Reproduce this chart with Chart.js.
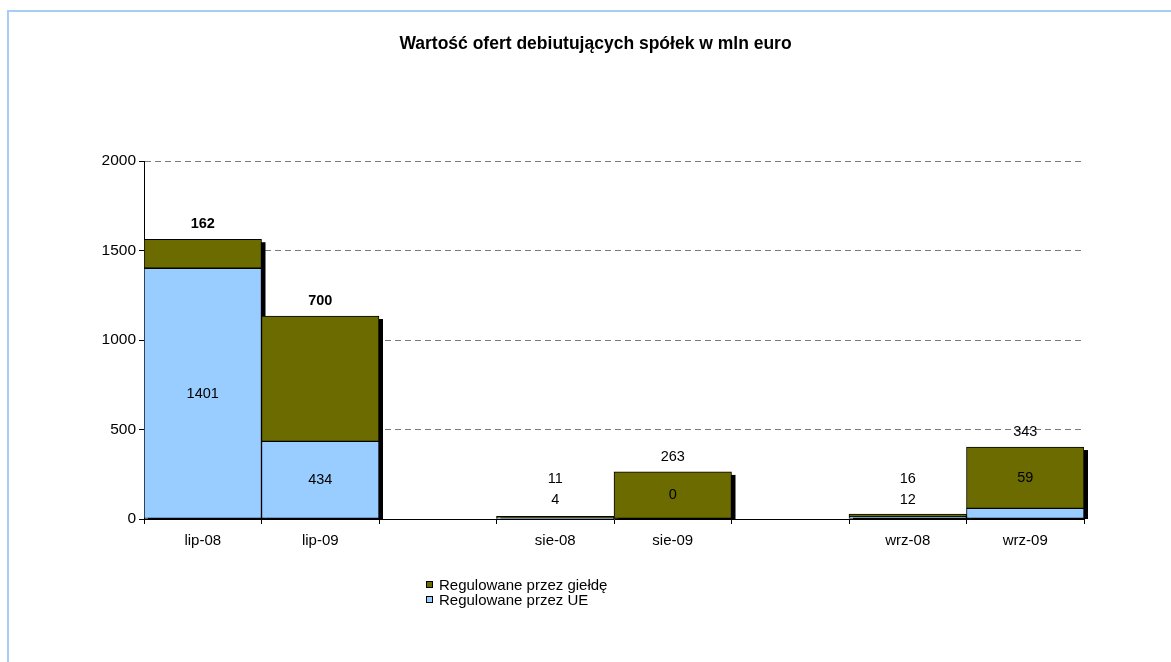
<!DOCTYPE html>
<html lang="pl">
<head>
<meta charset="utf-8">
<title>Wartość ofert debiutujących spółek w mln euro</title>
<script src="https://cdn.jsdelivr.net/npm/chart.js@4.4.1/dist/chart.umd.min.js"></script>
<style>
    html, body { margin: 0; padding: 0; background: #fff; }
    #wrap { position: relative; width: 1171px; height: 662px; overflow: hidden; }
    #frame {
        position: absolute; left: 7px; top: 10px; width: 1250px; height: 750px;
        border-top: 2px solid #a6cdf5; border-left: 2px solid #a6cdf5; box-sizing: border-box;
    }
    #chart { position: absolute; left: 0; top: 0; }
    #legend {
        position: absolute; left: 426px; top: 577px;
        font: 15px "Liberation Sans", Arial, sans-serif; color: #000; line-height: 15px;
    }
    .legend-item { display: flex; align-items: center; white-space: nowrap; }
    .legend-box { width: 5px; height: 5px; border: 1px solid #000; margin-right: 6px; }
</style>
</head>
<body>
<div id="wrap">
    <div id="frame"></div>
    <canvas id="chart" width="1171" height="662"></canvas>
    <div id="legend"></div>
</div>
<script>
// Data (empty categories are the gaps between months)
const categories = ["lip-08", "lip-09", "", "sie-08", "sie-09", "", "wrz-08", "wrz-09"];
const ueValues = [1401, 434, null, 4, 0, null, 12, 59];
const gieldaValues = [162, 700, null, 11, 263, null, 16, 343];
const yTicks = [0, 500, 1000, 1500, 2000];
const chartTitle = "Wartość ofert debiutujących spółek w mln euro";
const boldLabels = ["lip-08", "lip-09"];

const FONT = '"Liberation Sans", Arial, sans-serif';

// Title is drawn by hand: it sits a bit right of the canvas centre
const titlePlugin = {
    id: "chartTitle",
    afterDraw(chart) {
        const ctx = chart.ctx;
        ctx.save();
        ctx.fillStyle = "#000";
        ctx.font = "bold 17.5px " + FONT;
        ctx.textAlign = "center";
        ctx.textBaseline = "middle";
        ctx.fillText(chartTitle, chart.width / 2 + 10, 44);
        ctx.restore();
    }
};

// Black drop shadow behind each stacked bar (Excel style)
const shadowPlugin = {
    id: "barShadow",
    beforeDatasetsDraw(chart) {
        const ctx = chart.ctx;
        const area = chart.chartArea;
        const y = chart.scales.y;
        const meta = chart.getDatasetMeta(0);
        const zeroY = y.getPixelForValue(0);
        ctx.save();
        ctx.beginPath();
        ctx.rect(area.left, area.top, area.right - area.left + 10, area.bottom - area.top);
        ctx.clip();
        ctx.fillStyle = "#000";
        meta.data.forEach((bar, i) => {
            const total = (ueValues[i] || 0) + (gieldaValues[i] || 0);
            if (!categories[i] || !total) return;
            const { x, width } = bar.getProps(["x", "width"], true);
            const top = y.getPixelForValue(total);
            ctx.fillRect(x - width / 2 + 4, Math.min(top + 3, zeroY - 3), width, zeroY - top);
        });
        ctx.restore();
    }
};

// Value labels: top label = giełda, lower label = UE
const labelPlugin = {
    id: "valueLabels",
    afterDatasetsDraw(chart) {
        const ctx = chart.ctx;
        const y = chart.scales.y;
        const meta = chart.getDatasetMeta(0);
        const zeroY = y.getPixelForValue(0);
        ctx.save();
        ctx.fillStyle = "#000";
        ctx.textAlign = "center";
        ctx.textBaseline = "middle";
        categories.forEach((cat, i) => {
            if (!cat) return;
            const ue = ueValues[i], gp = gieldaValues[i];
            const x = meta.data[i].x;
            const topPx = y.getPixelForValue(ue + gp);
            const uePx = y.getPixelForValue(ue);
            let ueY, gpY;
            if (zeroY - topPx < 20) {
                // tiny bar: both labels stacked above it
                ueY = zeroY - 19;
                gpY = zeroY - 40;
            } else {
                gpY = topPx - 15;
                ueY = (zeroY - uePx > 30) ? (zeroY + uePx) / 2 : (uePx + topPx) / 2;
            }
            const bold = boldLabels.includes(cat);
            ctx.font = (bold ? "bold " : "") + "14.5px " + FONT;
            ctx.fillText(String(gp), x, gpY);
            ctx.font = "14.5px " + FONT;
            ctx.fillText(String(ue), x, ueY);
        });
        ctx.restore();
    }
};

const chart = new Chart(document.getElementById("chart"), {
    type: "bar",
    data: {
        labels: categories,
        datasets: [
            {
                label: "Regulowane przez UE",
                data: ueValues,
                backgroundColor: "#99ccff",
                borderColor: "#000",
                borderWidth: 1,
                borderSkipped: false,
                barPercentage: 1,
                categoryPercentage: 1
            },
            {
                label: "Regulowane przez giełdę",
                data: gieldaValues,
                backgroundColor: "#6b6b00",
                borderColor: "#000",
                borderWidth: 1,
                borderSkipped: false,
                barPercentage: 1,
                categoryPercentage: 1
            }
        ]
    },
    options: {
        responsive: false,
        animation: false,
        layout: { padding: { left: 0, right: 87, top: 161, bottom: 0 } },
        scales: {
            x: {
                stacked: true,
                afterFit: s => { s.height = 143; },
                grid: {
                    offset: true,
                    drawOnChartArea: false,
                    tickLength: 5,
                    tickColor: "#000"
                },
                border: { color: "#000", width: 1 },
                ticks: {
                    color: "#000",
                    font: { family: FONT, size: 15 },
                    padding: 8,
                    autoSkip: false,
                    maxRotation: 0
                }
            },
            y: {
                stacked: true,
                min: yTicks[0],
                max: yTicks[yTicks.length - 1],
                afterFit: s => { s.width = 144; },
                afterBuildTicks: s => { s.ticks = yTicks.map(v => ({ value: v })); },
                grid: {
                    color: c => (c.tick && c.tick.value === 0) ? "rgba(0,0,0,0)" : "#7a7a7a",
                    tickLength: 5,
                    tickColor: "#000"
                },
                border: { color: "#000", width: 1, dash: [6, 4] },
                ticks: {
                    color: "#000",
                    font: { family: FONT, size: 15.5 },
                    padding: 3,
                    callback: v => String(v)
                }
            }
        },
        plugins: {
            legend: { display: false },
            tooltip: { enabled: false },
            title: { display: false }
        }
    },
    plugins: [shadowPlugin, labelPlugin, titlePlugin]
});

// Legend in a single column, top series first (like Excel)
const legend = document.getElementById("legend");
[...chart.data.datasets].reverse().forEach(ds => {
    const item = document.createElement("div");
    item.className = "legend-item";
    item.innerHTML = `<span class="legend-box" style="background:${ds.backgroundColor}"></span>${ds.label}`;
    legend.appendChild(item);
});
</script>
</body>
</html>
